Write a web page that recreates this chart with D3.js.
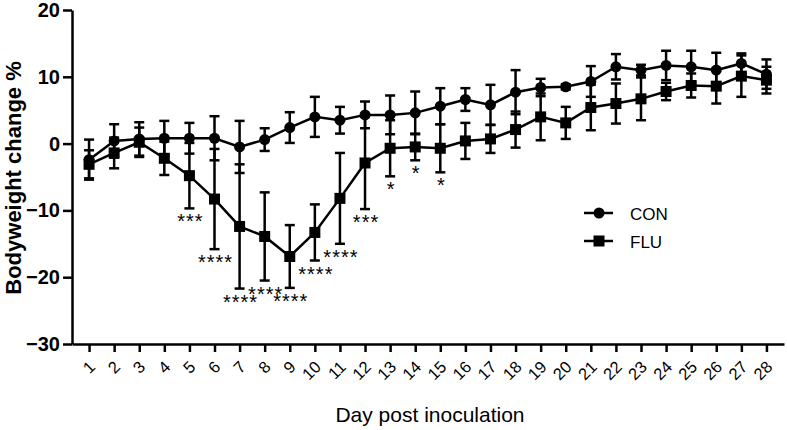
<!DOCTYPE html>
<html lang="en">
<head>
<meta charset="UTF-8">
<title>Bodyweight change</title>
<script src="https://cdn.jsdelivr.net/npm/d3@7"></script>
<style>
  body { margin: 0; background: #fff; }
  svg text { font-family: "Liberation Sans", Arial, sans-serif; fill: #000; }
</style>
</head>
<body>
<div id="container"></div>
<script>
// data
const days = d3.range(1, 29);
const conMean = [-2.4, 0.4, 0.7, 0.8, 0.8, 0.8, -0.5, 0.6, 2.4, 4.0, 3.5, 4.3, 4.3, 4.6,
                 5.6, 6.6, 5.8, 7.7, 8.4, 8.5, 9.3, 11.5, 11.0, 11.7, 11.5, 11.0, 12.0, 10.4];
const conErr  = [3.0, 2.5, 2.5, 2.6, 2.3, 3.3, 3.9, 1.7, 2.3, 3.0, 2.0, 2.0, 2.9, 3.2,
                 2.7, 1.7, 3.0, 3.3, 1.3, 0.4, 2.3, 1.9, 0.8, 2.2, 2.4, 2.6, 1.5, 2.2];
const fluMean = [-3.1, -1.4, 0.2, -2.2, -4.8, -8.3, -12.4, -13.9, -16.9, -13.3, -8.2, -2.9, -0.7, -0.5,
                 -0.7, 0.4, 0.7, 2.1, 4.0, 3.1, 5.4, 6.0, 6.7, 7.8, 8.7, 8.6, 10.1, 9.5];
const fluErr  = [2.1, 2.3, 2.2, 2.5, 4.9, 7.5, 9.3, 6.6, 4.7, 4.2, 6.8, 6.9, 4.2, 2.0,
                 3.6, 2.7, 2.1, 2.7, 3.5, 2.4, 3.4, 3.0, 3.2, 1.3, 1.8, 2.6, 3.1, 2.0];
const sigDays   = [5, 6, 7, 8, 9, 10, 11, 12, 13, 14, 15];
const sigLabels = ["***", "****", "****", "****", "****", "****", "****", "***", "*", "*", "*"];
const yTicks = [20, 10, 0, -10, -20, -30];

const width = 787, height = 430;
const svg = d3.select("#container").append("svg")
  .attr("width", width).attr("height", height);

const x = d3.scaleLinear().domain([0.32, 28.7]).range([72, 784]);
const y = d3.scaleLinear().domain([-30, 20]).range([344, 10]);

// axes
const xAxis = svg.append("g")
  .attr("transform", `translate(0,${y(-30)})`)
  .call(d3.axisBottom(x).tickValues(days).tickSize(8).tickSizeOuter(0).tickFormat(""));
xAxis.select(".domain").attr("stroke-width", 2.5);
xAxis.selectAll(".tick line").attr("stroke-width", 2.5);

const yAxis = svg.append("g")
  .attr("transform", `translate(${x.range()[0]},0)`)
  .call(d3.axisLeft(y).tickValues(yTicks).tickSize(9).tickSizeOuter(0).tickFormat(d3.format("d")));
yAxis.select(".domain").attr("stroke-width", 2.5);
yAxis.selectAll(".tick line").attr("stroke-width", 2.5);
yAxis.selectAll(".tick text")
  .attr("x", -12)
  .style("font-size", "20px").style("font-weight", "bold")
  .style("font-family", "'Liberation Sans', Arial, sans-serif");

// rotated day labels
svg.append("g").selectAll("text")
  .data(days).join("text")
  .attr("text-anchor", "end")
  .attr("dy", "0.35em")
  .attr("transform", d => `translate(${x(d) + 3},${364}) rotate(-45)`)
  .style("font-size", "16.5px")
  .text(d => d);

// axis titles
svg.append("text")
  .attr("x", 430).attr("y", 422)
  .attr("text-anchor", "middle")
  .style("font-size", "21px")
  .text("Day post inoculation");

svg.append("text")
  .attr("transform", `translate(21,${178}) rotate(-90)`)
  .attr("text-anchor", "middle")
  .style("font-size", "22px").style("font-weight", "bold")
  .text("Bodyweight change %");

function series(mean, err, shape) {
  const pts = days.map((d, i) => ({ d, m: mean[i], e: err[i] }));
  const g = svg.append("g").attr("stroke", "#000").attr("stroke-width", 2.5);
  const eb = g.selectAll(".eb").data(pts).join("g");
  eb.append("line")
    .attr("x1", p => x(p.d)).attr("x2", p => x(p.d))
    .attr("y1", p => y(p.m - p.e)).attr("y2", p => y(p.m + p.e));
  eb.append("line")
    .attr("x1", p => x(p.d) - 5).attr("x2", p => x(p.d) + 5)
    .attr("y1", p => y(p.m + p.e)).attr("y2", p => y(p.m + p.e));
  eb.append("line")
    .attr("x1", p => x(p.d) - 5).attr("x2", p => x(p.d) + 5)
    .attr("y1", p => y(p.m - p.e)).attr("y2", p => y(p.m - p.e));
  g.append("path")
    .datum(pts)
    .attr("fill", "none")
    .attr("d", d3.line().x(p => x(p.d)).y(p => y(p.m)));
  if (shape === "circle") {
    g.selectAll("circle").data(pts).join("circle")
      .attr("cx", p => x(p.d)).attr("cy", p => y(p.m))
      .attr("r", 5.5).attr("fill", "#000").attr("stroke", "none");
  } else {
    g.selectAll("rect").data(pts).join("rect")
      .attr("x", p => x(p.d) - 5.5).attr("y", p => y(p.m) - 5.5)
      .attr("width", 11).attr("height", 11).attr("fill", "#000").attr("stroke", "none");
  }
  return pts;
}

series(conMean, conErr, "circle");
const flu = series(fluMean, fluErr, "square");

// significance stars under FLU lower error bar
svg.append("g").selectAll("text")
  .data(sigDays.map((d, i) => ({ d, label: sigLabels[i], p: flu[d - 1] })))
  .join("text")
  .attr("x", s => x(s.d) + 1)
  .attr("y", s => y(s.p.m - s.p.e) + 20)
  .attr("text-anchor", "middle")
  .style("font-size", "20px")
  .style("letter-spacing", "1px")
  .text(s => s.label);

// legend
const legend = [
  { name: "CON", shape: "circle", y: 213 },
  { name: "FLU", shape: "square", y: 241 }
];
const lg = svg.append("g");
legend.forEach(l => {
  lg.append("line").attr("x1", 584).attr("x2", 613).attr("y1", l.y).attr("y2", l.y)
    .attr("stroke", "#000").attr("stroke-width", 2.5);
  if (l.shape === "circle") {
    lg.append("circle").attr("cx", 599).attr("cy", l.y).attr("r", 5.5).attr("fill", "#000");
  } else {
    lg.append("rect").attr("x", 593.5).attr("y", l.y - 5.5).attr("width", 11).attr("height", 11).attr("fill", "#000");
  }
  lg.append("text").attr("x", 630).attr("y", l.y + 7)
    .style("font-size", "17px").text(l.name);
});
</script>
</body>
</html>
